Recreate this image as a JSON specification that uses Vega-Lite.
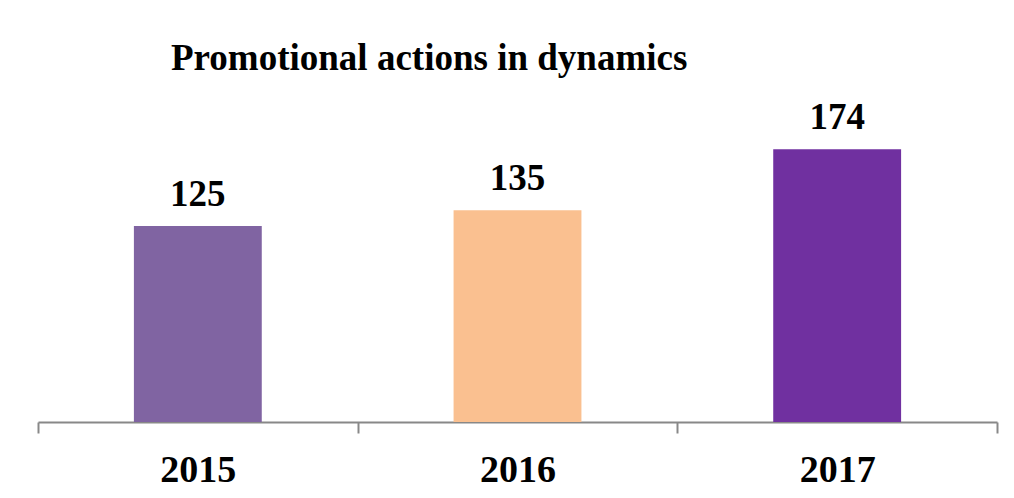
{
  "$schema": "https://vega.github.io/schema/vega-lite/v6.json",
  "width": 959,
  "height": 345,
  "autosize": {"type": "none"},
  "padding": {"left": 38, "top": 77, "right": 17, "bottom": 76},
  "background": "white",
  "title": {
    "text": "Promotional actions in dynamics",
    "anchor": "start",
    "dx": 134,
    "dy": 37,
    "offset": 7,
    "baseline": "alphabetic",
    "font": "Liberation Serif",
    "fontSize": 37,
    "fontWeight": "bold",
    "color": "black"
  },
  "data": {
    "values": [
      {"year": "2015", "value": 125},
      {"year": "2016", "value": 135},
      {"year": "2017", "value": 174}
    ]
  },
  "encoding": {
    "x": {
      "field": "year",
      "type": "nominal",
      "scale": {"paddingInner": 0, "paddingOuter": 0},
      "axis": {
        "title": null,
        "labelAngle": 0,
        "tickBand": "extent",
        "tickSize": 11,
        "tickColor": "#888888",
        "tickWidth": 2,
        "domainColor": "#888888",
        "domainWidth": 2,
        "labelFont": "Liberation Serif",
        "labelFontSize": 38,
        "labelFontWeight": "bold",
        "labelColor": "black",
        "labelBaseline": "alphabetic",
        "labelPadding": 48
      }
    },
    "y": {
      "field": "value",
      "type": "quantitative",
      "scale": {"domain": [0, 220]},
      "axis": null
    }
  },
  "layer": [
    {
      "mark": {"type": "bar", "width": {"band": 0.4}},
      "encoding": {
        "color": {
          "field": "year",
          "type": "nominal",
          "scale": {"domain": ["2015", "2016", "2017"], "range": ["#8064A2", "#FAC090", "#7030A0"]},
          "legend": null
        }
      }
    },
    {
      "mark": {
        "type": "text",
        "baseline": "alphabetic",
        "dy": -20,
        "font": "Liberation Serif",
        "fontSize": 37,
        "fontWeight": "bold",
        "color": "black"
      },
      "encoding": {"text": {"field": "value", "type": "quantitative"}}
    }
  ],
  "config": {"view": {"stroke": null}}
}
